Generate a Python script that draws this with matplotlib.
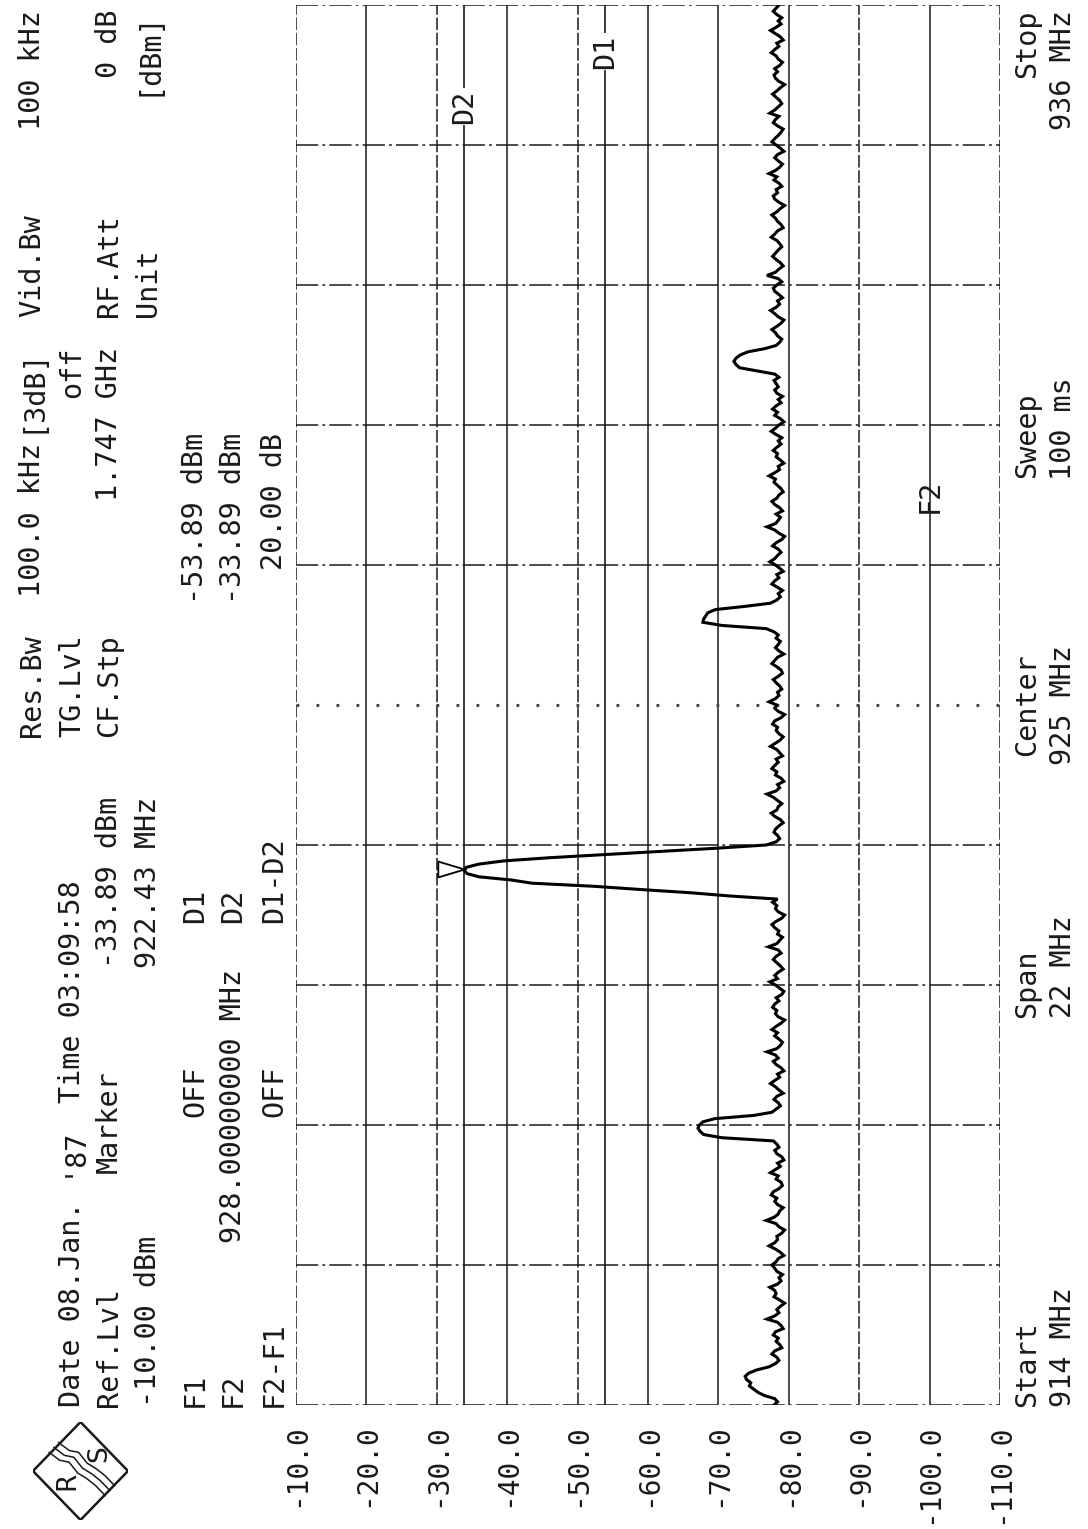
import numpy as np
import matplotlib
matplotlib.use('Agg')
import matplotlib.pyplot as plt
from matplotlib.transforms import offset_copy

W, H = 1088, 1529
plt.rcParams['font.family'] = ['DejaVu Sans Mono', 'DejaVu Sans']
plt.rcParams['lines.scale_dashes'] = False

# sweep settings and trace (dBm), one value every 50 kHz
sweep_start, sweep_stop = 914.0, 936.0
trace_914_918 = [
    -77.9, -78.4, -78.0, -76.5, -75.6, -75.0, -74.4, -74.6, -74.0, -73.8, -74.3, -75.4, -77.2, -78.1, -78.6, -78.3, -77.6, -78.0, -79.0, -78.7,
    -78.2, -78.5, -77.8, -78.1, -79.2, -78.9, -78.4, -76.9, -78.0, -78.6, -78.3, -78.8, -79.4, -78.7, -77.9, -78.2, -78.0, -77.3, -78.4, -78.9,
    -78.6, -79.1, -78.3, -78.0, -77.6, -78.2, -78.5, -79.3, -78.8, -78.1, -77.2, -78.0, -78.4, -78.3, -79.0, -79.4, -78.6, -78.2, -76.8, -77.9,
    -78.5, -78.7, -79.2, -78.4, -78.0, -78.3, -77.5, -77.8, -78.6, -79.1, -78.9, -78.2, -78.5, -77.4, -78.1, -78.8, -78.4, -79.3, -79.0, -78.3]
trace_918_922 = [
    -78.0, -78.6, -78.3, -77.8, -70.5, -67.9, -67.4, -67.1, -67.3, -67.8, -69.5, -75.0, -77.6, -78.2, -78.8, -78.5, -77.9, -78.3, -79.2, -78.6,
    -78.1, -77.4, -78.0, -78.7, -78.4, -79.3, -78.9, -78.2, -77.8, -78.5, -78.1, -76.9, -78.3, -78.8, -79.1, -78.6, -78.0, -78.4, -77.6, -78.2,
    -78.9, -79.4, -78.5, -78.1, -78.3, -77.7, -78.0, -78.6, -78.2, -79.0, -79.3, -78.7, -78.1, -77.3, -78.4, -78.0, -78.5, -79.2, -78.8, -78.3,
    -77.8, -78.2, -78.9, -78.5, -77.1, -78.3, -78.7, -79.1, -78.4, -78.6, -78.0, -77.6, -78.2, -79.0, -79.4, -78.5, -78.1, -78.3, -77.7, -78.4]
trace_922_926 = [
    -71.5, -66.0, -59.0, -52.5, -43.5, -40.6, -36.0, -34.3, -33.9, -34.2, -36.0, -39.5, -46.0, -54.0, -62.0, -69.8, -76.8, -78.2, -78.7, -78.4,
    -77.9, -78.1, -78.6, -79.2, -78.8, -78.0, -77.5, -78.3, -78.5, -79.0, -78.4, -77.8, -76.9, -78.2, -78.7, -78.4, -79.3, -78.9, -78.1, -78.3,
    -77.6, -78.0, -78.5, -78.2, -79.1, -78.7, -78.3, -77.4, -78.1, -78.8, -79.2, -78.6, -78.2, -78.4, -77.7, -78.0, -78.9, -79.4, -78.5, -78.0,
    -78.3, -77.2, -78.1, -78.6, -78.4, -79.0, -78.7, -78.2, -77.8, -78.5, -79.1, -78.9, -78.3, -77.6, -78.0, -78.4, -79.3, -78.6, -78.1, -78.5]
trace_926_930 = [
    -78.8, -78.2, -78.5, -77.9, -76.8, -70.5, -67.8, -67.9, -68.2, -68.5, -69.6, -73.8, -77.4, -78.3, -78.8, -78.5, -79.1, -78.4, -77.6, -78.0,
    -78.6, -78.3, -79.2, -78.7, -78.1, -77.3, -78.0, -78.4, -78.9, -78.5, -77.7, -78.2, -79.0, -79.4, -78.6, -78.0, -76.9, -78.1, -78.5, -78.8,
    -78.2, -79.1, -78.7, -78.0, -77.6, -78.3, -78.6, -79.2, -78.9, -78.4, -77.9, -78.1, -77.2, -78.0, -78.7, -78.5, -79.3, -78.8, -78.2, -78.4,
    -77.8, -78.3, -78.9, -78.5, -79.0, -78.2, -77.5, -78.1, -78.6, -79.3, -78.8, -78.0, -78.4, -77.7, -78.2, -78.9, -78.5, -79.1, -78.3, -78.0]
trace_930_934 = [
    -78.5, -78.2, -77.9, -78.6, -78.0, -75.5, -73.0, -72.5, -72.2, -72.5, -73.1, -74.2, -76.6, -78.2, -78.7, -79.0, -78.4, -78.1, -77.6, -78.3,
    -78.9, -79.3, -78.5, -78.0, -77.4, -78.2, -78.7, -78.4, -79.1, -78.6, -78.0, -77.8, -78.3, -79.0, -78.5, -76.9, -78.1, -78.6, -79.2, -78.8,
    -78.2, -77.7, -78.1, -78.5, -79.0, -78.7, -78.3, -77.5, -78.0, -78.4, -79.2, -78.9, -78.4, -78.1, -77.6, -78.3, -78.8, -79.4, -78.6, -78.0,
    -77.8, -78.4, -78.2, -79.0, -78.6, -77.9, -78.3, -77.2, -78.1, -78.7, -79.1, -78.5, -78.0, -78.4, -79.3, -78.8, -78.2, -77.6, -78.0, -78.5]
trace_934_936 = [
    -78.9, -79.2, -78.4, -77.8, -78.1, -78.6, -77.3, -78.0, -78.5, -79.0, -78.7, -78.2, -77.7, -78.3, -78.8, -79.4, -78.6, -78.1, -77.9, -78.4,
    -78.0, -78.7, -79.1, -78.5, -78.2, -77.5, -78.0, -78.6, -78.3, -79.2, -78.8, -78.1, -77.4, -78.2, -78.9, -78.5, -79.0, -78.3, -77.8, -78.2,
    -78.6]

level_ticks = [-10, -20, -30, -40, -50, -60, -70, -80, -90, -100, -110]
dashed_levels = [-10, -30, -50, -90, -110]
ref_level, bottom_level = -10, -110

marker_freq, marker_level = 922.43, -33.89
d1_level, d2_level = -53.89, -33.89
f2_freq = 928.0

levels = np.array(trace_914_918 + trace_918_922 + trace_922_926 +
                  trace_926_930 + trace_930_934 + trace_934_936)
freqs = np.linspace(sweep_start, sweep_stop, len(levels))
freq_grid = np.linspace(sweep_start, sweep_stop, 11)

fig = plt.figure(figsize=(W / 100, H / 100), dpi=100)
ax = fig.add_axes([296 / W, 1 - 1405 / H, (1000 - 296) / W, (1405 - 5) / H])
ax.set_xlim(ref_level, bottom_level)
ax.set_ylim(sweep_start, sweep_stop)
for s in ax.spines.values():
    s.set_visible(False)
ax.set_yticks([])

ink = '#1a1a1a'
# graticule
for lv in level_ticks:
    if lv in dashed_levels:
        ax.axvline(lv, color=ink, lw=1.1, linestyle=(0, (9, 2)))
    else:
        ax.axvline(lv, color=ink, lw=1.1)
for k, fq in enumerate(freq_grid):
    if k == 5:
        ax.axhline(fq, color='#444', lw=2.2, linestyle=(0, (2, 12.4)))
    else:
        ax.axhline(fq, color=ink, lw=1.1, linestyle=(0, (16, 3, 2, 3)))

# display lines D1 / D2
for lv, name, fpos in [(d1_level, 'D1', 935.27), (d2_level, 'D2', 934.40)]:
    ax.axvline(lv, color=ink, lw=1.2)
    ax.text(lv, fpos, name, rotation=90, ha='center', va='center', fontsize=20.5,
            color=ink, bbox=dict(facecolor='white', edgecolor='none', pad=1))

# F2 label
ax.text(-100, f2_freq + 0.28, 'F2', rotation=90, ha='center', va='center',
        fontsize=20.5, color=ink)

# trace
ax.plot(levels, freqs, color='black', lw=2.2, solid_joinstyle='miter')

# marker triangle pointing to the peak
tri = [(1, 0), (-1, 0.6), (-1, -0.6), (1, 0)]
ax.plot([marker_level], [marker_freq], marker=tri, ms=19, mfc='none', mec='black', mew=1.3,
        transform=offset_copy(ax.transData, fig=fig, x=-13, y=0, units='dots'))

ax.set_xticks(level_ticks)
ax.set_xticklabels([f'{v:.1f}' for v in level_ticks])
ax.tick_params(axis='x', length=0, pad=13, labelrotation=90, labelsize=20, colors=ink)


def label(x, y, s, ha='left', size=20.5):
    fig.text(x / W, 1 - y / H, s, rotation=90, rotation_mode='anchor',
             ha=ha, va='baseline', fontsize=size, color=ink)


# header block
label(40, 737, 'Res.Bw')
label(40, 597, '100.0 kHz')
label(40, 347, '[3dB]', ha='right')
label(40, 317, 'Vid.Bw')
label(40, 10, '100 kHz', ha='right')

label(80, 1407, "Date 08.Jan.")
label(80, 1177, "'87")
label(80, 1103, 'Time 03:09:58')
label(80, 737, 'TG.Lvl')
label(80, 347, 'off', ha='right')

label(117, 1407, 'Ref.Lvl')
label(117, 1173, 'Marker')
label(117, 797, '-33.89 dBm', ha='right')
label(117, 737, 'CF.Stp')
label(117, 347, '1.747 GHz', ha='right')
label(117, 317, 'RF.Att')
label(117, 10, '0 dB', ha='right')

label(156, 1407, '-10.00 dBm')
label(156, 797, '922.43 MHz', ha='right')
label(156, 317, 'Unit')
label(156, 10, '[dBm]', ha='right')

label(203, 1407, 'F1')
label(203, 1117, 'OFF')
label(203, 923, 'D1')
label(203, 433, '-53.89 dBm', ha='right')

label(241, 1407, 'F2')
label(241, 1243, '928.00000000 MHz')
label(241, 923, 'D2')
label(241, 433, '-33.89 dBm', ha='right')

label(282, 1407, 'F2-F1')
label(282, 1117, 'OFF')
label(282, 923, 'D1-D2')
label(282, 433, '20.00 dB', ha='right')

# frequency annotations below the graticule
label(1035, 1407, 'Start')
label(1071, 1407, '914 MHz')
label(1035, 1018, 'Span')
label(1071, 1018, '22 MHz')
label(1035, 705, 'Center', ha='center')
label(1071, 705, '925 MHz', ha='center')
label(1035, 478, 'Sweep')
label(1071, 480, '100 ms')
label(1035, 10, 'Stop', ha='right')
label(1071, 10, '936 MHz', ha='right')

# R&S logo
lg = fig.add_axes([33 / W, 1 - 1520 / H, 95 / W, 98 / H])
lg.set_xlim(0, 1)
lg.set_ylim(0, 1)
lg.axis('off')
lg.plot([0, 0.5, 1, 0.5, 0], [0.5, 1, 0.5, 0, 0.5], color=ink, lw=1.8)
wave_x = [0.22, 0.33, 0.43, 0.52, 0.62, 0.71, 0.81]
wave_y = [0.74, 0.66, 0.64, 0.53, 0.47, 0.40, 0.30]
for off in (-0.05, 0.0, 0.05):
    lg.plot([x + off for x in wave_x], [y + off for y in wave_y], color=ink, lw=1.1)
lg.text(0.36, 0.40, 'R', rotation=90, ha='center', va='center', fontsize=19,
        family='DejaVu Sans', color=ink)
lg.text(0.70, 0.68, 'S', rotation=90, ha='center', va='center', fontsize=19,
        family='DejaVu Sans', color=ink)

fig.savefig('out.png', dpi=100)
